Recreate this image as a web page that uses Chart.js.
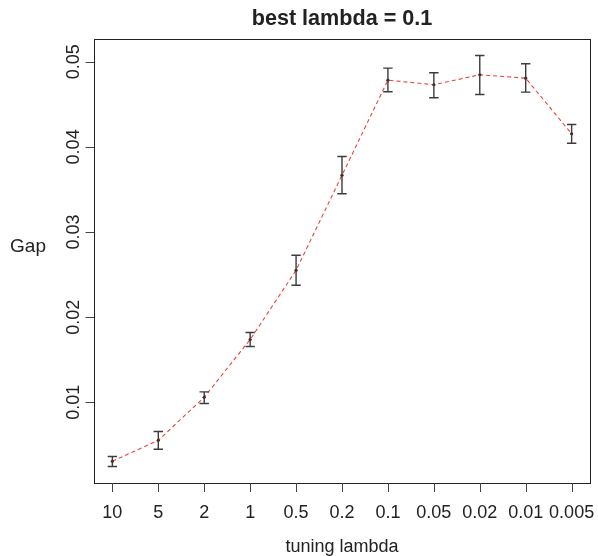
<!DOCTYPE html>
<html>
<head>
<meta charset="utf-8">
<script src="https://cdn.jsdelivr.net/npm/chart.js@4"></script>
<style>
  html, body { margin: 0; padding: 0; background: #fff; }
  #wrap { width: 598px; height: 556px; }
</style>
</head>
<body>
<div id="wrap"><canvas id="gap" width="598" height="556"></canvas></div>
<script>
var lambdaLabels = ['10', '5', '2', '1', '0.5', '0.2', '0.1', '0.05', '0.02', '0.01', '0.005'];
var gapMean  = [0.00307, 0.00553, 0.01059, 0.01737, 0.02551, 0.03667, 0.04784, 0.04730, 0.04847, 0.04807, 0.04154];
var gapLower = [0.00245, 0.00448, 0.00985, 0.01655, 0.02375, 0.03449, 0.04648, 0.04577, 0.04616, 0.04643, 0.04043];
var gapUpper = [0.00363, 0.00656, 0.01122, 0.01819, 0.02727, 0.03887, 0.04925, 0.04871, 0.05074, 0.04976, 0.04263];
var yTicks = [0.01, 0.02, 0.03, 0.04, 0.05];
var yTickLabels = ['0.01', '0.02', '0.03', '0.04', '0.05'];

var FONT = '"Liberation Sans", Arial, Helvetica, sans-serif';

var points = [];
for (var i = 0; i < gapMean.length; i++) {
  points.push({ x: i + 1, y: gapMean[i] });
}

// R pads the data range by 4% on each side
var lo = Math.min.apply(null, gapLower);
var hi = Math.max.apply(null, gapUpper);
var yPad = 0.04 * (hi - lo);
var xPad = 0.04 * (lambdaLabels.length - 1);

// box, ticks, labels and error bars in base-graphics style, placed via the scales
var rPlot = {
  id: 'rPlot',
  afterDatasetsDraw: function (chart) {
    var ctx = chart.ctx;
    var area = chart.chartArea;
    var xs = chart.scales.x;
    var ys = chart.scales.y;
    var i, px, py;
    ctx.save();

    // error bars
    ctx.strokeStyle = '#3c3c3c';
    ctx.lineWidth = 1.4;
    for (i = 0; i < gapMean.length; i++) {
      px = xs.getPixelForValue(i + 1);
      var top = ys.getPixelForValue(gapUpper[i]);
      var bot = ys.getPixelForValue(gapLower[i]);
      ctx.beginPath();
      ctx.moveTo(px, top); ctx.lineTo(px, bot);
      ctx.moveTo(px - 4.7, top); ctx.lineTo(px + 4.7, top);
      ctx.moveTo(px - 4.7, bot); ctx.lineTo(px + 4.7, bot);
      ctx.stroke();
    }

    // box
    ctx.strokeStyle = '#222';
    ctx.lineWidth = 1;
    ctx.strokeRect(Math.round(area.left) + 0.5, Math.round(area.top) + 0.5,
      Math.round(area.right - area.left), Math.round(area.bottom - area.top));

    // tick marks
    ctx.strokeStyle = '#444';
    ctx.beginPath();
    for (i = 0; i < lambdaLabels.length; i++) {
      px = Math.round(xs.getPixelForValue(i + 1)) + 0.5;
      ctx.moveTo(px, area.bottom);
      ctx.lineTo(px, area.bottom + 9);
    }
    for (i = 0; i < yTicks.length; i++) {
      py = Math.round(ys.getPixelForValue(yTicks[i])) + 0.5;
      ctx.moveTo(area.left - 8.5, py);
      ctx.lineTo(area.left, py);
    }
    ctx.stroke();

    // tick labels
    ctx.fillStyle = '#222';
    ctx.font = '18px ' + FONT;
    ctx.textAlign = 'center';
    ctx.textBaseline = 'alphabetic';
    for (i = 0; i < lambdaLabels.length; i++) {
      ctx.fillText(lambdaLabels[i], xs.getPixelForValue(i + 1), 517.5);
    }
    for (i = 0; i < yTicks.length; i++) {
      ctx.save();
      ctx.translate(78.5, ys.getPixelForValue(yTicks[i]));
      ctx.rotate(-Math.PI / 2);
      ctx.fillText(yTickLabels[i], 0, 0);
      ctx.restore();
    }

    // axis titles
    var cx = (area.left + area.right) / 2;
    ctx.fillText('tuning lambda', cx, 551.5);
    ctx.font = '19px ' + FONT;
    ctx.textBaseline = 'middle';
    ctx.fillText('Gap', 28, 247);

    // main title
    ctx.font = 'bold 21.6px ' + FONT;
    ctx.textBaseline = 'alphabetic';
    ctx.fillText('best lambda = 0.1', cx, 25);

    ctx.restore();
  }
};

var chart = new Chart(document.getElementById('gap').getContext('2d'), {
  type: 'line',
  data: {
    datasets: [{
      data: points,
      borderColor: '#e8453c',
      borderWidth: 1.1,
      borderDash: [4, 3],
      pointRadius: 1.6,
      pointBorderWidth: 0,
      pointBackgroundColor: '#5a1010',
      tension: 0,
      fill: false
    }]
  },
  options: {
    responsive: false,
    animation: false,
    devicePixelRatio: 1,
    layout: { padding: { left: 94, right: 8, top: 39, bottom: 73 } },
    plugins: {
      legend: { display: false },
      tooltip: { enabled: false },
      title: { display: false }
    },
    scales: {
      x: {
        type: 'linear',
        display: false,
        min: 1 - xPad,
        max: lambdaLabels.length + xPad
      },
      y: {
        type: 'linear',
        display: false,
        min: lo - yPad,
        max: hi + yPad
      }
    }
  },
  plugins: [rPlot]
});
</script>
</body>
</html>
